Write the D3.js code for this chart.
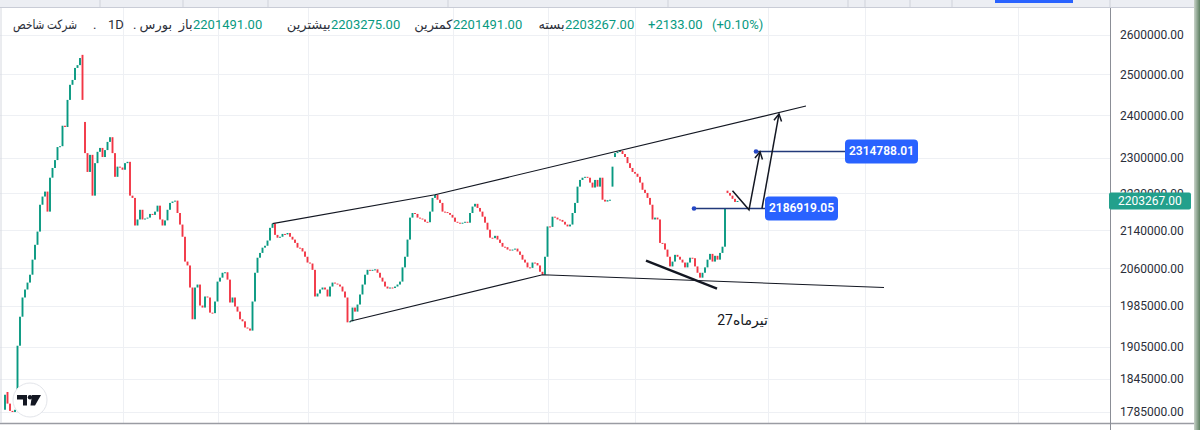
<!DOCTYPE html>
<html><head><meta charset="utf-8">
<script src="https://cdn.jsdelivr.net/npm/d3@7"></script>
<style>html,body{margin:0;padding:0;background:#fff;overflow:hidden}svg{display:block}</style>
</head><body>
<svg id="c" width="1200" height="430"></svg>
<script>
// ---------- data ----------
const yTicks = [2600000,2500000,2400000,2300000,2220000,2140000,2060000,1985000,1905000,1845000,1785000];
const closes = [
1816000,1800000,1787000,1785000,1789000,1907000,1963000,2001000,2017000,2031000,
2047000,2078000,2109000,2137000,2195000,2213000,2224000,2180000,2255000,2277000,
2295000,2325000,2327000,2375000,2372000,2437000,2474000,2486000,2516000,2523000,
2541000,2437000,2311000,2268000,2307000,2215000,2288000,2314000,2323000,2302000,
2318000,2337000,2348000,2311000,2257000,2280000,2278000,2273000,2288000,2291000,
2215000,2210000,2150000,2163000,2184000,2163000,2165000,2167000,2175000,2173000,
2180000,2193000,2163000,2150000,2161000,2184000,2199000,2202000,2204000,2177000,
2152000,2126000,2074000,2066000,2021000,1958000,2021000,2027000,1985000,1981000,
2003000,2001000,1971000,1970000,1993000,2033000,2041000,2051000,2052000,2037000,
1991000,2001000,1983000,1973000,1958000,1954000,1942000,1940000,1936000,1993000,
2051000,2082000,2092000,2103000,2107000,2118000,2145000,2154000,2130000,2124000,
2126000,2132000,2131000,2134000,2126000,2120000,2113000,2103000,2102000,2095000,
2084000,2072000,2070000,2057000,2003000,2009000,2017000,2021000,2017000,2003000,
2023000,2031000,2029000,2027000,2023000,2013000,2001000,1952000,1954000,1981000,
1973000,1987000,2007000,2027000,2047000,2057000,2055000,2057000,2058000,2051000,
2041000,2033000,2023000,2019000,2021000,2020000,2023000,2027000,2033000,2062000,
2084000,2120000,2167000,2177000,2175000,2167000,2165000,2163000,2158000,2157000,
2180000,2210000,2217000,2206000,2199000,2180000,2179000,2177000,2173000,2167000,
2158000,2156000,2155000,2156000,2158000,2156000,2177000,2191000,2197000,2188000,
2180000,2169000,2156000,2141000,2124000,2123000,2128000,2120000,2113000,2105000,
2104000,2099000,2098000,2099000,2101000,2095000,2088000,2078000,2072000,2062000,
2061000,2072000,2071000,2066000,2053000,2047000,2084000,2148000,2147000,2169000,
2167000,2163000,2162000,2158000,2152000,2148000,2152000,2177000,2199000,2235000,
2250000,2255000,2257000,2255000,2244000,2233000,2250000,2235000,2255000,2206000,
2202000,2205000,2206000,2280000,2311000,2314000,2316000,2309000,2302000,2288000,
2277000,2268000,2264000,2257000,2244000,2228000,2221000,2210000,2195000,2163000,
2167000,2163000,2113000,2112000,2099000,2084000,2064000,2074000,2088000,2084000,
2078000,2072000,2062000,2072000,2082000,2081000,2064000,2051000,2041000,2051000,
2062000,2078000,2090000,2074000,2086000,2078000,2092000,2105000,2186919,2221000,
2215000,2208000,2201134,2203267];
const opens = [
1789000,1821000,1800000,1787000,1785000,1789000,1907000,1963000,2001000,2017000,
2031000,2047000,2078000,2109000,2137000,2195000,2213000,2224000,2180000,2255000,
2277000,2295000,2325000,2327000,2375000,2372000,2437000,2474000,2486000,2516000,
2523000,2549000,2384000,2311000,2268000,2307000,2215000,2288000,2314000,2323000,
2302000,2318000,2337000,2348000,2311000,2257000,2280000,2278000,2273000,2288000,
2291000,2215000,2210000,2150000,2163000,2184000,2163000,2165000,2167000,2175000,
2173000,2180000,2193000,2163000,2150000,2161000,2184000,2199000,2202000,2204000,
2177000,2152000,2126000,2074000,2066000,2021000,1958000,2021000,2027000,1985000,
1981000,2003000,2001000,1971000,1970000,1993000,2033000,2041000,2051000,2052000,
2037000,1991000,2001000,1983000,1973000,1958000,1954000,1942000,1940000,1936000,
1993000,2051000,2082000,2092000,2103000,2107000,2118000,2145000,2154000,2130000,
2124000,2126000,2132000,2131000,2134000,2126000,2120000,2113000,2103000,2102000,
2095000,2084000,2072000,2070000,2057000,2003000,2009000,2017000,2021000,2017000,
2003000,2023000,2031000,2029000,2027000,2023000,2013000,2001000,1952000,1954000,
1981000,1973000,1987000,2007000,2027000,2047000,2057000,2055000,2057000,2058000,
2051000,2041000,2033000,2023000,2019000,2021000,2020000,2023000,2027000,2033000,
2062000,2084000,2120000,2167000,2177000,2175000,2167000,2165000,2163000,2158000,
2157000,2180000,2210000,2217000,2206000,2199000,2180000,2179000,2177000,2173000,
2167000,2158000,2156000,2155000,2156000,2158000,2156000,2177000,2191000,2197000,
2188000,2180000,2169000,2156000,2141000,2124000,2123000,2128000,2120000,2113000,
2105000,2104000,2099000,2098000,2099000,2101000,2095000,2088000,2078000,2072000,
2062000,2061000,2072000,2071000,2066000,2053000,2047000,2084000,2148000,2147000,
2169000,2167000,2163000,2162000,2158000,2152000,2148000,2152000,2177000,2199000,
2235000,2250000,2255000,2257000,2255000,2244000,2233000,2250000,2235000,2255000,
2206000,2202000,2205000,2235000,2302000,2311000,2314000,2316000,2309000,2302000,
2288000,2277000,2268000,2264000,2257000,2244000,2228000,2221000,2210000,2195000,
2163000,2167000,2163000,2113000,2112000,2099000,2084000,2064000,2074000,2088000,
2084000,2078000,2072000,2062000,2072000,2082000,2081000,2064000,2051000,2041000,
2051000,2062000,2078000,2090000,2074000,2086000,2078000,2092000,2105000,2226000,
2221000,2215000,2208000,2201491];
const gridDays = [47,85,121,179,217,252,305,344,405];
const lastPrice = 2203267;
const levelPrices = [2186919.05, 2314788.01];
const levelStarts = [275.6, 300.4];
const levelBoxDays = [304, 336];
const channelUpper = [[107,2154000],[172,2217000],[320.4,2422000]];
const channelLower = [[138,1954000],[215,2047000],[351.6,2021000]];
const thickLine = [[256.4,2076000],[284.8,2019000]];
const arrowA = [[291,2226000],[297.6,2184000],[302,2314000]];
const arrowB = [[302.8,2186919],[309.6,2403000]];
const noteText = "27تیرماه";
const notePos = [295, 1954000];
const headerTitle = "شرکت شاخص";
const headerInterval = "1D";
const headerExchange = "بورس";
const ohlcLabels = ["باز","بیشترین","کمترین","بسته"];
const ohlcValues = ["2201491.00","2203275.00","2201491.00","2203267.00"];
const changeAbs = "+2133.00";
const changePct = "(+0.10%)";

// ---------- drawing ----------
const svg = d3.select('#c');
const FONT = "Roboto, 'DejaVu Sans', sans-serif";
const UP = '#089981', DOWN = '#f23645';
const x = d3.scaleLinear().domain([0, closes.length-1]).range([5, 737.5]);
const y = d3.scaleLog().domain([1785000, 2600000]).range([412, 35]);
const AXX = 1110;

svg.append('rect').attr('width',1200).attr('height',430).attr('fill','#fff');
// top toolbar strip
svg.append('rect').attr('x',0).attr('y',0).attr('width',1200).attr('height',7).attr('fill','#eceef3');
svg.append('line').attr('x1',0).attr('x2',1200).attr('y1',7.5).attr('y2',7.5).attr('stroke','#c9ccd6').attr('stroke-width',1.2);
[100,183,268,448,668,848,865,910,952,1110].forEach(v=>svg.append('line').attr('x1',v).attr('x2',v).attr('y1',0).attr('y2',7).attr('stroke','#cfd2da'));
svg.append('rect').attr('x',995).attr('y',0).attr('width',78).attr('height',3).attr('fill','#2962ff');

const plot = svg.append('g');
const defs = svg.append('defs');
defs.append('clipPath').attr('id','pc').append('rect').attr('x',0).attr('y',8).attr('width',AXX).attr('height',415);

// grid
plot.selectAll('.hg').data(yTicks).join('line')
  .attr('x1',0).attr('x2',AXX).attr('y1',d=>Math.round(y(d))+0.5).attr('y2',d=>Math.round(y(d))+0.5)
  .attr('stroke','#eef0f4').attr('stroke-width',1);
plot.selectAll('.vg').data(gridDays).join('line')
  .attr('x1',d=>Math.round(x(d))+0.5).attr('x2',d=>Math.round(x(d))+0.5).attr('y1',8).attr('y2',423)
  .attr('stroke','#eef0f4').attr('stroke-width',1);

const g = svg.append('g').attr('clip-path','url(#pc)');
// candles
g.selectAll('.cd').data(closes).join('rect')
  .attr('x',(d,i)=>x(i)-0.95).attr('width',1.9)
  .attr('y',(d,i)=>y(Math.max(d,opens[i])))
  .attr('height',(d,i)=>Math.max(1,Math.abs(y(d)-y(opens[i]))))
  .attr('fill',(d,i)=>d>=opens[i]?UP:DOWN);

const line = d3.line().x(d=>x(d[0])).y(d=>y(d[1]));
g.append('path').attr('d',line(channelUpper)).attr('fill','none').attr('stroke','#131722').attr('stroke-width',1.1);
g.append('path').attr('d',line(channelLower)).attr('fill','none').attr('stroke','#131722').attr('stroke-width',1.1);
g.append('path').attr('d',line(thickLine)).attr('fill','none').attr('stroke','#131722').attr('stroke-width',2.4);

// level lines
levelPrices.forEach((p,k)=>{
  const yy = y(p), x0 = x(levelStarts[k]), x1 = x(levelBoxDays[k]);
  g.append('line').attr('x1',x0).attr('x2',x1).attr('y1',yy).attr('y2',yy).attr('stroke','#22397a').attr('stroke-width',1.4);
  g.append('circle').attr('cx',x0).attr('cy',yy).attr('r',2.3).attr('fill','#2446c4');
});

function arrow(pts){
  g.append('path').attr('d',line(pts)).attr('fill','none').attr('stroke','#131722').attr('stroke-width',1.5).attr('stroke-linejoin','miter');
  const a = pts[pts.length-2], b = pts[pts.length-1];
  const ax=x(a[0]), ay=y(a[1]), bx=x(b[0]), by=y(b[1]);
  const ang = Math.atan2(by-ay,bx-ax), L=8, s=0.5;
  const p1=[bx-L*Math.cos(ang-s), by-L*Math.sin(ang-s)], p2=[bx-L*Math.cos(ang+s), by-L*Math.sin(ang+s)];
  g.append('path').attr('d',`M${p1[0]},${p1[1]}L${bx},${by}L${p2[0]},${p2[1]}`).attr('fill','none').attr('stroke','#131722').attr('stroke-width',1.5);
}
arrow(arrowA); arrow(arrowB);

// level labels
levelPrices.forEach((p,k)=>{
  const yy = y(p), bx = x(levelBoxDays[k]);
  g.append('rect').attr('x',bx).attr('y',yy-12).attr('width',73).attr('height',24).attr('rx',4).attr('fill','#2962ff');
  g.append('text').attr('x',bx+36.5).attr('y',yy+0.5).attr('text-anchor','middle').attr('dominant-baseline','middle')
    .attr('font-family',FONT).attr('font-size',12).attr('font-weight',600).attr('fill','#fff').text(d3.format('.2f')(p));
});

// note text
g.append('text').attr('x',x(notePos[0])).attr('y',y(notePos[1])).attr('text-anchor','middle').attr('dominant-baseline','middle')
  .attr('direction','ltr').attr('font-family',FONT).attr('font-size',14).attr('fill','#131722').text(noteText);

// TV logo
const lg = svg.append('g');
lg.append('circle').attr('cx',30).attr('cy',400).attr('r',17).attr('fill','#fff').attr('stroke','#e3e5ea').attr('stroke-width',1);
lg.append('path').attr('d','M17,395H27V405.5H23V399.5H17Z').attr('fill','#131722');
lg.append('circle').attr('cx',30).attr('cy',397.3).attr('r',2.2).attr('fill','#131722');
lg.append('path').attr('d','M32,395H41L35,405.5H30.5Z').attr('fill','#131722');

// bottom line / borders
svg.append('line').attr('x1',0).attr('x2',1200).attr('y1',423.5).attr('y2',423.5).attr('stroke','#9a9ca3').attr('stroke-width',1.5);
svg.append('line').attr('x1',1).attr('x2',1).attr('y1',8).attr('y2',423).attr('stroke','#d6d9e0');
svg.append('line').attr('x1',AXX+0.5).attr('x2',AXX+0.5).attr('y1',8).attr('y2',430).attr('stroke','#8b8e96').attr('stroke-width',1);

// y axis labels
const axis = d3.axisRight(y).tickValues(yTicks).tickFormat(d3.format('.2f')).tickSize(0).tickPadding(10);
const ag = svg.append('g').attr('transform',`translate(${AXX},0)`).call(axis);
ag.select('.domain').remove();
ag.selectAll('text').attr('font-family',FONT).attr('font-size',12).attr('fill','#2a2e39');

// last price badge
const ly = y(lastPrice);
svg.append('rect').attr('x',AXX-1).attr('y',ly-8.5).attr('width',82).attr('height',17).attr('rx',2).attr('fill','#22a08c');
svg.append('text').attr('x',AXX+8).attr('y',ly+0.5).attr('dominant-baseline','middle').attr('font-family',FONT).attr('font-size',12)
  .attr('fill','#fff').text(d3.format('.2f')(lastPrice));

// right photo edge
const gr = defs.append('linearGradient').attr('id','edge').attr('x1',0).attr('x2',1);
gr.append('stop').attr('offset',0).attr('stop-color','#c9d3c9');
gr.append('stop').attr('offset',1).attr('stop-color','#5d7f62');
svg.append('rect').attr('x',1194).attr('y',0).attr('width',6).attr('height',430).attr('fill','url(#edge)');

// header legend
const hy = 29;
const hg = svg.append('g').attr('font-family',FONT).attr('font-size',13);
function ht(str,xx,anchor,col,len){
  const t = hg.append('text').attr('x',xx).attr('y',hy).attr('text-anchor',anchor).attr('fill',col).attr('direction','ltr').text(str);
  if(len) t.attr('textLength',len).attr('lengthAdjust','spacingAndGlyphs');
}
const DARK = '#2a2e39', TEAL = '#089981';
ht(headerTitle,13,'start',DARK,64);
ht('.',93,'start',DARK);
ht(headerInterval,108,'start',DARK);
ht('.',133,'start',DARK);
ht(headerExchange,172,'end',DARK);
const numX = [193,331,453,565];
ohlcValues.forEach((v,k)=>{ ht(ohlcLabels[k],numX[k]-0.5,'end',DARK); ht(v,numX[k],'start',TEAL); });
ht(changeAbs,648,'start',TEAL);
ht(changePct,712,'start',TEAL);
</script>
</body></html>
